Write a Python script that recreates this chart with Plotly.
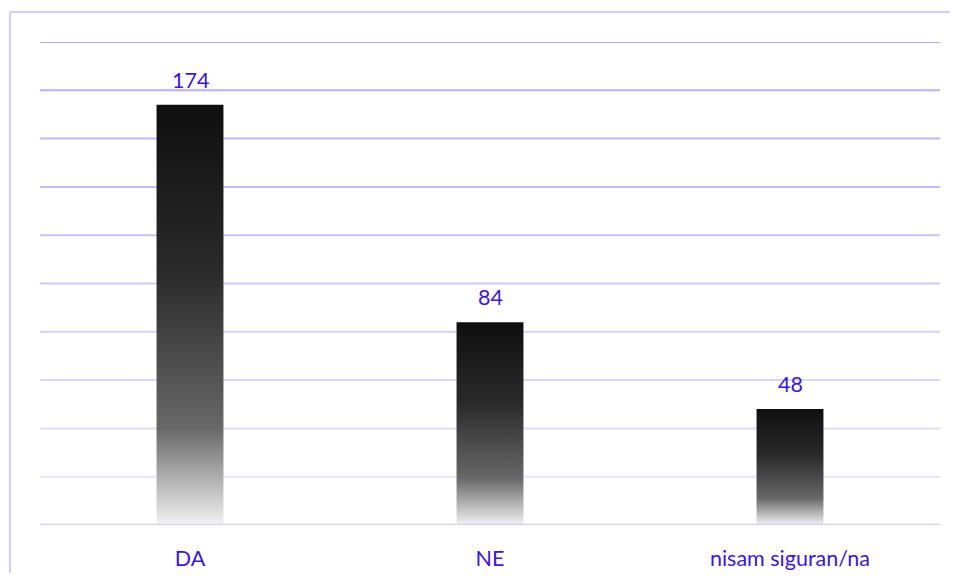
import plotly.graph_objects as go

categories = ["DA", "NE", "nisam siguran/na"]
values = [174, 84, 48]
grid_vals = [20, 40, 60, 80, 100, 120, 140, 160, 180, 200]

BAR_W = 0.223
TXT = "#3a14f0"
FRAME = "#d4ccff"

fig = go.Figure()

# bars as filled polygons so they can carry a vertical gradient
for i, v in enumerate(values):
    x0, x1 = i - BAR_W / 2, i + BAR_W / 2
    fig.add_trace(go.Scatter(
        x=[x0, x1, x1, x0, x0],
        y=[0, 0, v, v, 0],
        mode="lines",
        line=dict(width=0),
        fill="toself",
        fillgradient=dict(
            type="vertical",
            colorscale=[[0, "#f2f2f2"], [0.23, "#686868"], [0.6, "#2a2a2a"], [1, "#0f0f0f"]],
        ),
        hoverinfo="skip",
        showlegend=False,
    ))
    fig.add_annotation(x=i, y=v, text=str(v), showarrow=False,
                       yanchor="bottom", yshift=10,
                       font=dict(size=21.5, color=TXT))

# gridlines fading from top (darker) to bottom (lighter)
for g in grid_vals:
    t = g / 200
    c0 = (236, 234, 252)
    c1 = (178, 170, 248)
    col = "rgb(%d,%d,%d)" % tuple(round(a + (b - a) * t) for a, b in zip(c0, c1))
    fig.add_shape(type="line", xref="paper", x0=0, x1=1, yref="y", y0=g, y1=g,
                  line=dict(color=col, width=2), layer="below")

# axis baseline
fig.add_shape(type="line", xref="paper", x0=0, x1=1, yref="y", y0=0, y1=0,
              line=dict(color="#d2cdfb", width=2.5), layer="above")

# outer frame: only the left and top edges are in view
fig.add_shape(type="line", xref="paper", yref="paper",
              x0=-0.0333, x1=-0.0333, y0=-0.4, y1=1.062,
              line=dict(color=FRAME, width=2))
fig.add_shape(type="line", xref="paper", yref="paper",
              x0=-0.0333, x1=1.2, y0=1.062, y1=1.062,
              line=dict(color=FRAME, width=2))

fig.update_xaxes(range=[-0.5, 2.5], tickvals=[0, 1, 2], ticktext=categories,
                 showgrid=False, zeroline=False, showline=False, automargin=False,
                 ticks="outside", ticklen=14, tickcolor="rgba(0,0,0,0)",
                 tickfont=dict(size=21.5, color=TXT))
fig.update_yaxes(range=[0, 200], showgrid=False, zeroline=False,
                 showticklabels=False, showline=False, automargin=False)

fig.update_layout(
    width=942, height=565,
    margin=dict(l=32, r=10, t=34, b=48),
    plot_bgcolor="white", paper_bgcolor="white",
    font=dict(family="Lato, 'Noto Sans', sans-serif"),
    showlegend=False,
)

fig.write_html("out.html")
